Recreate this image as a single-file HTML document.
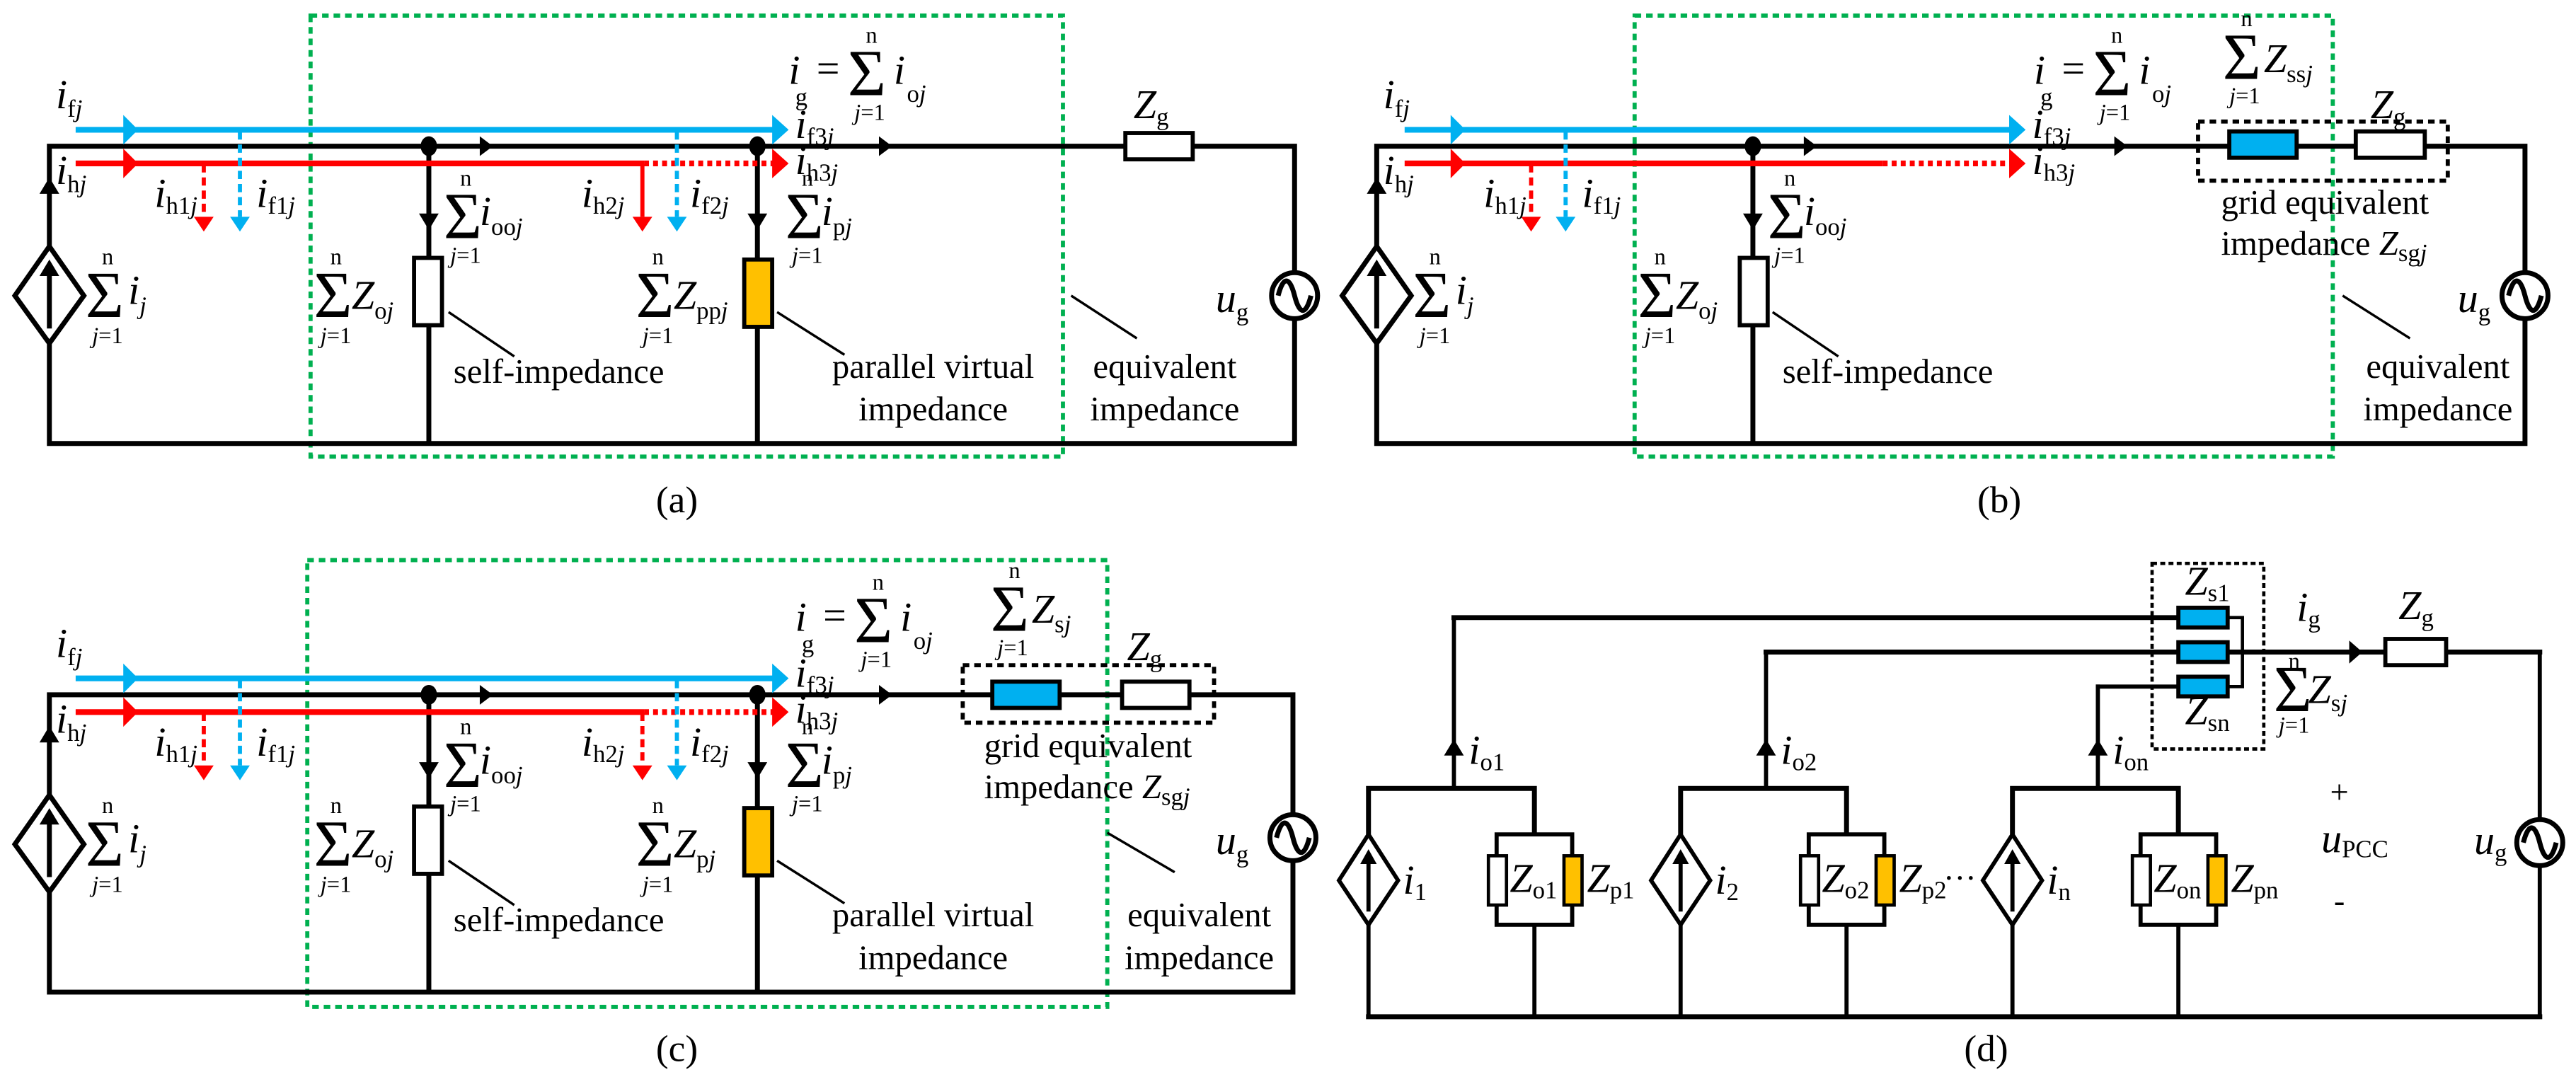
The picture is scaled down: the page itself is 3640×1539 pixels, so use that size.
<!DOCTYPE html>
<html><head><meta charset="utf-8"><style>
html,body{margin:0;padding:0;background:#fff;}
svg{display:block;font-family:"Liberation Serif","DejaVu Serif",serif;}
text,tspan{font-family:"Liberation Serif","DejaVu Serif",serif;}
text{fill:#000;}
.v{font-style:italic;font-size:25px;}
.s{font-style:normal;font-size:15px;}
.j{font-style:italic;}
.sg{font-size:40px;}
.sm{font-size:14px;}
.t{font-size:21px;}
.cap{font-size:23px;}
</style></head><body>
<svg width="3640" height="1539" viewBox="0 0 1568 663" xmlns="http://www.w3.org/2000/svg" font-family="Liberation Serif, DejaVu Serif, serif">
<rect width="1568" height="663" fill="#fff"/>

<!-- ================= (a) ================= -->
<g>
<rect x="189" y="9.5" width="458" height="268.5" fill="none" stroke="#00B050" stroke-width="2.5" stroke-dasharray="4 3"/>
<path d="M30,89 H788 V270 H30 Z" fill="none" stroke="#000" stroke-width="3"/>
<line x1="261" y1="89" x2="261" y2="270" stroke="#000" stroke-width="3"/>
<line x1="461" y1="89" x2="461" y2="270" stroke="#000" stroke-width="3"/>
<ellipse cx="261" cy="89" rx="5" ry="6"/><ellipse cx="461" cy="89" rx="5" ry="6"/>
<rect x="252" y="157" width="17" height="41" fill="#fff" stroke="#000" stroke-width="2.5"/>
<rect x="453" y="158" width="17" height="41" fill="#FFC000" stroke="#000" stroke-width="2.5"/>
<rect x="685" y="81" width="41" height="16" fill="#fff" stroke="#000" stroke-width="2.5"/>
<circle cx="788" cy="180" r="14" fill="#fff" stroke="#000" stroke-width="3"/>
<path d="M778,180 c3,-12 7,-12 10,0 s7,12 10,0" fill="none" stroke="#000" stroke-width="3"/>
<polygon points="30,150 51,180 30,209 9,180" fill="#fff" stroke="#000" stroke-width="3"/>
<line x1="30" y1="200" x2="30" y2="166" stroke="#000" stroke-width="3"/><path d="M30,158 l-6,10 h12 z"/>
<path d="M30,108 l-6,10 h12 z"/>
<path d="M261,140 l-6,-10 h12 z"/><path d="M461,140 l-6,-10 h12 z"/>
<path d="M300,89 l-8,-6 v12 z"/><path d="M543,89 l-8,-6 v12 z"/>
<line x1="46" y1="79" x2="472" y2="79" stroke="#00B0F0" stroke-width="3.5"/>
<path d="M480,79 l-10,-9 v18 z" fill="#00B0F0"/><path d="M84,79 l-9,-9 v18 z" fill="#00B0F0"/>
<line x1="46" y1="99.5" x2="392" y2="99.5" stroke="#f00" stroke-width="3.5"/>
<line x1="392" y1="99.5" x2="472" y2="99.5" stroke="#f00" stroke-width="3.5" stroke-dasharray="3 2.5"/>
<path d="M480,99.5 l-10,-9 v18 z" fill="#f00"/><path d="M84,99.5 l-9,-9 v18 z" fill="#f00"/>
<line x1="124" y1="100" x2="124" y2="132" stroke="#f00" stroke-width="2.5" stroke-dasharray="5 3"/><path d="M124,141 l-6,-9 h12 z" fill="#f00"/>
<line x1="146" y1="80" x2="146" y2="132" stroke="#00B0F0" stroke-width="2.5" stroke-dasharray="5 3"/><path d="M146,141 l-6,-9 h12 z" fill="#00B0F0"/>
<line x1="391" y1="100" x2="391" y2="132" stroke="#f00" stroke-width="2.5"/><path d="M391,141 l-6,-9 h12 z" fill="#f00"/>
<line x1="412" y1="80" x2="412" y2="132" stroke="#00B0F0" stroke-width="2.5" stroke-dasharray="5 3"/><path d="M412,141 l-6,-9 h12 z" fill="#00B0F0"/>
<line x1="273" y1="190" x2="313" y2="217" stroke="#000" stroke-width="1.5"/>
<line x1="473" y1="190" x2="514" y2="216" stroke="#000" stroke-width="1.5"/>
<line x1="652" y1="180" x2="692" y2="206" stroke="#000" stroke-width="1.5"/>
<text x="34" y="66" class="v">i<tspan class="s" dy="5">f</tspan><tspan class="s j">j</tspan></text>
<text x="34" y="112" class="v">i<tspan class="s" dy="5">h</tspan><tspan class="s j">j</tspan></text>
<text x="94" y="126" class="v">i<tspan class="s" dy="4">h1</tspan><tspan class="s j">j</tspan></text>
<text x="156" y="126" class="v">i<tspan class="s" dy="4">f1</tspan><tspan class="s j">j</tspan></text>
<text x="354" y="126" class="v">i<tspan class="s" dy="4">h2</tspan><tspan class="s j">j</tspan></text>
<text x="420" y="126" class="v">i<tspan class="s" dy="4">f2</tspan><tspan class="s j">j</tspan></text>
<text x="484" y="84" class="v">i<tspan class="s" dy="4">f3</tspan><tspan class="s j">j</tspan></text>
<text x="484" y="106" class="v">i<tspan class="s" dy="4">h3</tspan><tspan class="s j">j</tspan></text>
<text x="480" y="51" class="v">i</text><text x="484" y="64" class="s">g</text>
<text x="497" y="50" font-size="25">=</text>
<text x="516" y="58" class="sg">Σ</text><text x="527" y="26" class="sm">n</text><text x="520" y="73" class="sm"><tspan class="j">j</tspan>=1</text>
<text x="544" y="51" class="v">i</text><text x="552" y="62" class="s">o<tspan class="j">j</tspan></text>
<text x="690" y="72" class="v">Z<tspan class="s" dy="4">g</tspan></text>
<text x="740" y="190" class="v">u<tspan class="s" dy="5">g</tspan></text>
<text x="52" y="193" class="sg">Σ</text><text x="62" y="161" class="sm">n</text><text x="56" y="209" class="sm"><tspan class="j">j</tspan>=1</text>
<text x="78" y="185" class="v">i<tspan class="s j" dy="6">j</tspan></text>
<text x="191" y="193" class="sg">Σ</text><text x="201" y="161" class="sm">n</text><text x="195" y="209" class="sm"><tspan class="j">j</tspan>=1</text>
<text x="214" y="188" class="v">Z<tspan class="s" dy="6">o<tspan class="j">j</tspan></tspan></text>
<text x="270" y="145" class="sg">Σ</text><text x="280" y="113" class="sm">n</text><text x="274" y="160" class="sm"><tspan class="j">j</tspan>=1</text>
<text x="292" y="137" class="v">i<tspan class="s" dy="6">oo<tspan class="j">j</tspan></tspan></text>
<text x="387" y="193" class="sg">Σ</text><text x="397" y="161" class="sm">n</text><text x="391" y="209" class="sm"><tspan class="j">j</tspan>=1</text>
<text x="410" y="188" class="v">Z<tspan class="s" dy="6">pp<tspan class="j">j</tspan></tspan></text>
<text x="478" y="145" class="sg">Σ</text><text x="488" y="113" class="sm">n</text><text x="482" y="160" class="sm"><tspan class="j">j</tspan>=1</text>
<text x="500" y="137" class="v">i<tspan class="s" dy="6">p<tspan class="j">j</tspan></tspan></text>
<text x="276" y="233" class="t">self-impedance</text>
<text x="568" y="230" class="t" text-anchor="middle">parallel virtual</text>
<text x="568" y="256" class="t" text-anchor="middle">impedance</text>
<text x="709" y="230" class="t" text-anchor="middle">equivalent</text>
<text x="709" y="256" class="t" text-anchor="middle">impedance</text>
<text x="412" y="312" class="cap" text-anchor="middle">(a)</text>
</g>

<!-- ================= (b) ================= -->
<g>
<rect x="995" y="9.5" width="425" height="268.5" fill="none" stroke="#00B050" stroke-width="2.5" stroke-dasharray="4 3"/>
<path d="M838,89 H1537 V270 H838 Z" fill="none" stroke="#000" stroke-width="3"/>
<line x1="1067" y1="89" x2="1067" y2="270" stroke="#000" stroke-width="3"/>
<ellipse cx="1067" cy="89" rx="5" ry="6"/>
<rect x="1059" y="157" width="17" height="41" fill="#fff" stroke="#000" stroke-width="2.5"/>
<rect x="1338" y="74" width="152" height="36" fill="none" stroke="#000" stroke-width="2.5" stroke-dasharray="4 3"/>
<rect x="1357" y="80" width="41" height="16" fill="#00B0F0" stroke="#000" stroke-width="2.5"/>
<rect x="1434" y="80" width="42" height="16" fill="#fff" stroke="#000" stroke-width="2.5"/>
<circle cx="1537" cy="180" r="14" fill="#fff" stroke="#000" stroke-width="3"/>
<path d="M1527,180 c3,-12 7,-12 10,0 s7,12 10,0" fill="none" stroke="#000" stroke-width="3"/>
<polygon points="838,150 859,180 838,209 817,180" fill="#fff" stroke="#000" stroke-width="3"/>
<line x1="838" y1="200" x2="838" y2="166" stroke="#000" stroke-width="3"/><path d="M838,158 l-6,10 h12 z"/>
<path d="M838,108 l-6,10 h12 z"/>
<path d="M1067,140 l-6,-10 h12 z"/>
<path d="M1106,89 l-8,-6 v12 z"/><path d="M1295,89 l-8,-6 v12 z"/>
<line x1="855" y1="79" x2="1225" y2="79" stroke="#00B0F0" stroke-width="3.5"/>
<path d="M1233,79 l-10,-9 v18 z" fill="#00B0F0"/><path d="M892,79 l-9,-9 v18 z" fill="#00B0F0"/>
<line x1="855" y1="99.5" x2="1146" y2="99.5" stroke="#f00" stroke-width="3.5"/>
<line x1="1146" y1="99.5" x2="1225" y2="99.5" stroke="#f00" stroke-width="3.5" stroke-dasharray="3 2.5"/>
<path d="M1233,99.5 l-10,-9 v18 z" fill="#f00"/><path d="M892,99.5 l-9,-9 v18 z" fill="#f00"/>
<line x1="932" y1="100" x2="932" y2="132" stroke="#f00" stroke-width="2.5" stroke-dasharray="5 3"/><path d="M932,141 l-6,-9 h12 z" fill="#f00"/>
<line x1="953" y1="80" x2="953" y2="132" stroke="#00B0F0" stroke-width="2.5" stroke-dasharray="5 3"/><path d="M953,141 l-6,-9 h12 z" fill="#00B0F0"/>
<line x1="1079" y1="190" x2="1119" y2="217" stroke="#000" stroke-width="1.5"/>
<line x1="1426" y1="180" x2="1467" y2="206" stroke="#000" stroke-width="1.5"/>
<text x="842" y="66" class="v">i<tspan class="s" dy="5">f</tspan><tspan class="s j">j</tspan></text>
<text x="842" y="112" class="v">i<tspan class="s" dy="5">h</tspan><tspan class="s j">j</tspan></text>
<text x="903" y="126" class="v">i<tspan class="s" dy="4">h1</tspan><tspan class="s j">j</tspan></text>
<text x="963" y="126" class="v">i<tspan class="s" dy="4">f1</tspan><tspan class="s j">j</tspan></text>
<text x="1237" y="84" class="v">i<tspan class="s" dy="4">f3</tspan><tspan class="s j">j</tspan></text>
<text x="1237" y="106" class="v">i<tspan class="s" dy="4">h3</tspan><tspan class="s j">j</tspan></text>
<text x="1238" y="51" class="v">i</text><text x="1242" y="64" class="s">g</text>
<text x="1255" y="50" font-size="25">=</text>
<text x="1274" y="58" class="sg">Σ</text><text x="1285" y="26" class="sm">n</text><text x="1278" y="73" class="sm"><tspan class="j">j</tspan>=1</text>
<text x="1302" y="51" class="v">i</text><text x="1310" y="62" class="s">o<tspan class="j">j</tspan></text>
<text x="1353" y="48" class="sg">Σ</text><text x="1364" y="16" class="sm">n</text><text x="1357" y="63" class="sm"><tspan class="j">j</tspan>=1</text>
<text x="1378" y="44" class="v">Z<tspan class="s" dy="6">ss<tspan class="j">j</tspan></tspan></text>
<text x="1443" y="72" class="v">Z<tspan class="s" dy="4">g</tspan></text>
<text x="1352" y="130" class="t">grid equivalent</text>
<text x="1352" y="155" class="t">impedance <tspan class="j">Z</tspan><tspan class="s" dy="4">sg<tspan class="j">j</tspan></tspan></text>
<text x="1496" y="190" class="v">u<tspan class="s" dy="5">g</tspan></text>
<text x="860" y="193" class="sg">Σ</text><text x="870" y="161" class="sm">n</text><text x="864" y="209" class="sm"><tspan class="j">j</tspan>=1</text>
<text x="886" y="185" class="v">i<tspan class="s j" dy="6">j</tspan></text>
<text x="997" y="193" class="sg">Σ</text><text x="1007" y="161" class="sm">n</text><text x="1001" y="209" class="sm"><tspan class="j">j</tspan>=1</text>
<text x="1020" y="188" class="v">Z<tspan class="s" dy="6">o<tspan class="j">j</tspan></tspan></text>
<text x="1076" y="145" class="sg">Σ</text><text x="1086" y="113" class="sm">n</text><text x="1080" y="160" class="sm"><tspan class="j">j</tspan>=1</text>
<text x="1098" y="137" class="v">i<tspan class="s" dy="6">oo<tspan class="j">j</tspan></tspan></text>
<text x="1085" y="233" class="t">self-impedance</text>
<text x="1484" y="230" class="t" text-anchor="middle">equivalent</text>
<text x="1484" y="256" class="t" text-anchor="middle">impedance</text>
<text x="1217" y="312" class="cap" text-anchor="middle">(b)</text>
</g>

<!-- ================= (c) ================= -->
<g>
<rect x="187" y="341" width="487" height="272" fill="none" stroke="#00B050" stroke-width="2.5" stroke-dasharray="4 3"/>
<path d="M30,423 H787 V604 H30 Z" fill="none" stroke="#000" stroke-width="3"/>
<line x1="261" y1="423" x2="261" y2="604" stroke="#000" stroke-width="3"/>
<line x1="461" y1="423" x2="461" y2="604" stroke="#000" stroke-width="3"/>
<ellipse cx="261" cy="423" rx="5" ry="6"/><ellipse cx="461" cy="423" rx="5" ry="6"/>
<rect x="252" y="491" width="17" height="41" fill="#fff" stroke="#000" stroke-width="2.5"/>
<rect x="453" y="492" width="17" height="41" fill="#FFC000" stroke="#000" stroke-width="2.5"/>
<rect x="586" y="405" width="153" height="35" fill="none" stroke="#000" stroke-width="2.5" stroke-dasharray="4 3"/>
<rect x="604" y="415" width="41" height="16" fill="#00B0F0" stroke="#000" stroke-width="2.5"/>
<rect x="683" y="415" width="41" height="16" fill="#fff" stroke="#000" stroke-width="2.5"/>
<circle cx="787" cy="510" r="14" fill="#fff" stroke="#000" stroke-width="3"/>
<path d="M777,510 c3,-12 7,-12 10,0 s7,12 10,0" fill="none" stroke="#000" stroke-width="3"/>
<polygon points="30,484 51,514 30,543 9,514" fill="#fff" stroke="#000" stroke-width="3"/>
<line x1="30" y1="534" x2="30" y2="500" stroke="#000" stroke-width="3"/><path d="M30,492 l-6,10 h12 z"/>
<path d="M30,442 l-6,10 h12 z"/>
<path d="M261,474 l-6,-10 h12 z"/><path d="M461,474 l-6,-10 h12 z"/>
<path d="M300,423 l-8,-6 v12 z"/><path d="M543,423 l-8,-6 v12 z"/>
<line x1="46" y1="413" x2="472" y2="413" stroke="#00B0F0" stroke-width="3.5"/>
<path d="M480,413 l-10,-9 v18 z" fill="#00B0F0"/><path d="M84,413 l-9,-9 v18 z" fill="#00B0F0"/>
<line x1="46" y1="433.5" x2="392" y2="433.5" stroke="#f00" stroke-width="3.5"/>
<line x1="392" y1="433.5" x2="472" y2="433.5" stroke="#f00" stroke-width="3.5" stroke-dasharray="3 2.5"/>
<path d="M480,433.5 l-10,-9 v18 z" fill="#f00"/><path d="M84,433.5 l-9,-9 v18 z" fill="#f00"/>
<line x1="124" y1="434" x2="124" y2="466" stroke="#f00" stroke-width="2.5" stroke-dasharray="5 3"/><path d="M124,475 l-6,-9 h12 z" fill="#f00"/>
<line x1="146" y1="414" x2="146" y2="466" stroke="#00B0F0" stroke-width="2.5" stroke-dasharray="5 3"/><path d="M146,475 l-6,-9 h12 z" fill="#00B0F0"/>
<line x1="391" y1="434" x2="391" y2="466" stroke="#f00" stroke-width="2.5" stroke-dasharray="5 3"/><path d="M391,475 l-6,-9 h12 z" fill="#f00"/>
<line x1="412" y1="414" x2="412" y2="466" stroke="#00B0F0" stroke-width="2.5" stroke-dasharray="5 3"/><path d="M412,475 l-6,-9 h12 z" fill="#00B0F0"/>
<line x1="273" y1="524" x2="313" y2="551" stroke="#000" stroke-width="1.5"/>
<line x1="473" y1="524" x2="514" y2="550" stroke="#000" stroke-width="1.5"/>
<line x1="674" y1="507" x2="715" y2="531" stroke="#000" stroke-width="1.5"/>
<text x="34" y="400" class="v">i<tspan class="s" dy="5">f</tspan><tspan class="s j">j</tspan></text>
<text x="34" y="446" class="v">i<tspan class="s" dy="5">h</tspan><tspan class="s j">j</tspan></text>
<text x="94" y="460" class="v">i<tspan class="s" dy="4">h1</tspan><tspan class="s j">j</tspan></text>
<text x="156" y="460" class="v">i<tspan class="s" dy="4">f1</tspan><tspan class="s j">j</tspan></text>
<text x="354" y="460" class="v">i<tspan class="s" dy="4">h2</tspan><tspan class="s j">j</tspan></text>
<text x="420" y="460" class="v">i<tspan class="s" dy="4">f2</tspan><tspan class="s j">j</tspan></text>
<text x="484" y="418" class="v">i<tspan class="s" dy="4">f3</tspan><tspan class="s j">j</tspan></text>
<text x="484" y="440" class="v">i<tspan class="s" dy="4">h3</tspan><tspan class="s j">j</tspan></text>
<text x="484" y="384" class="v">i</text><text x="488" y="397" class="s">g</text>
<text x="501" y="383" font-size="25">=</text>
<text x="520" y="391" class="sg">Σ</text><text x="531" y="359" class="sm">n</text><text x="524" y="406" class="sm"><tspan class="j">j</tspan>=1</text>
<text x="548" y="384" class="v">i</text><text x="556" y="395" class="s">o<tspan class="j">j</tspan></text>
<text x="603" y="384" class="sg">Σ</text><text x="614" y="352" class="sm">n</text><text x="607" y="399" class="sm"><tspan class="j">j</tspan>=1</text>
<text x="628" y="379" class="v">Z<tspan class="s" dy="6">s<tspan class="j">j</tspan></tspan></text>
<text x="686" y="402" class="v">Z<tspan class="s" dy="4">g</tspan></text>
<text x="599" y="461" class="t">grid equivalent</text>
<text x="599" y="486" class="t">impedance <tspan class="j">Z</tspan><tspan class="s" dy="4">sg<tspan class="j">j</tspan></tspan></text>
<text x="740" y="520" class="v">u<tspan class="s" dy="5">g</tspan></text>
<text x="52" y="527" class="sg">Σ</text><text x="62" y="495" class="sm">n</text><text x="56" y="543" class="sm"><tspan class="j">j</tspan>=1</text>
<text x="78" y="519" class="v">i<tspan class="s j" dy="6">j</tspan></text>
<text x="191" y="527" class="sg">Σ</text><text x="201" y="495" class="sm">n</text><text x="195" y="543" class="sm"><tspan class="j">j</tspan>=1</text>
<text x="214" y="522" class="v">Z<tspan class="s" dy="6">o<tspan class="j">j</tspan></tspan></text>
<text x="270" y="479" class="sg">Σ</text><text x="280" y="447" class="sm">n</text><text x="274" y="494" class="sm"><tspan class="j">j</tspan>=1</text>
<text x="292" y="471" class="v">i<tspan class="s" dy="6">oo<tspan class="j">j</tspan></tspan></text>
<text x="387" y="527" class="sg">Σ</text><text x="397" y="495" class="sm">n</text><text x="391" y="543" class="sm"><tspan class="j">j</tspan>=1</text>
<text x="410" y="522" class="v">Z<tspan class="s" dy="6">p<tspan class="j">j</tspan></tspan></text>
<text x="478" y="479" class="sg">Σ</text><text x="488" y="447" class="sm">n</text><text x="482" y="494" class="sm"><tspan class="j">j</tspan>=1</text>
<text x="500" y="471" class="v">i<tspan class="s" dy="6">p<tspan class="j">j</tspan></tspan></text>
<text x="276" y="567" class="t">self-impedance</text>
<text x="568" y="564" class="t" text-anchor="middle">parallel virtual</text>
<text x="568" y="590" class="t" text-anchor="middle">impedance</text>
<text x="730" y="564" class="t" text-anchor="middle">equivalent</text>
<text x="730" y="590" class="t" text-anchor="middle">impedance</text>
<text x="412" y="646" class="cap" text-anchor="middle">(c)</text>
</g>

<!-- ================= (d) ================= -->
<g>
<rect x="1310" y="343" width="68" height="113" fill="none" stroke="#000" stroke-width="2" stroke-dasharray="3 2"/>
<g stroke-linecap="square">
<line x1="833" y1="619" x2="1546" y2="619" stroke="#000" stroke-width="3"/>
<line x1="1546" y1="397" x2="1546" y2="619" stroke="#000" stroke-width="2.5"/>
<line x1="885" y1="376" x2="1326" y2="376" stroke="#000" stroke-width="3"/>
<line x1="885" y1="376" x2="885" y2="480" stroke="#000" stroke-width="2.5"/>
<line x1="1075" y1="397" x2="1546" y2="397" stroke="#000" stroke-width="3"/>
<line x1="1075" y1="397" x2="1075" y2="480" stroke="#000" stroke-width="2.5"/>
<line x1="1277" y1="418" x2="1326" y2="418" stroke="#000" stroke-width="2.5"/>
<line x1="1277" y1="418" x2="1277" y2="480" stroke="#000" stroke-width="2.5"/>
<polyline points="1356,376 1365,376 1365,418 1356,418" fill="none" stroke="#000" stroke-width="2"/>
</g>
<rect x="1326" y="370" width="30" height="12" fill="#00B0F0" stroke="#000" stroke-width="2.5"/>
<rect x="1326" y="391" width="30" height="12" fill="#00B0F0" stroke="#000" stroke-width="2.5"/>
<rect x="1326" y="412" width="30" height="12" fill="#00B0F0" stroke="#000" stroke-width="2.5"/>
<rect x="1452" y="389" width="37" height="16" fill="#fff" stroke="#000" stroke-width="2.5"/>
<path d="M1438,397 l-8,-7 v14 z"/>
<circle cx="1546" cy="513" r="14" fill="#fff" stroke="#000" stroke-width="3"/>
<path d="M1536,513 c3,-12 7,-12 10,0 s7,12 10,0" fill="none" stroke="#000" stroke-width="3"/>
<path d="M885,450 l-6,10 h12 z"/><path d="M1075,450 l-6,10 h12 z"/><path d="M1277,450 l-6,10 h12 z"/>
<g>
<polyline points="833,508 833,480 934,480 934,508" fill="none" stroke="#000" stroke-width="3"/>
<line x1="833" y1="563" x2="833" y2="619" stroke="#000" stroke-width="2.5"/>
<line x1="934" y1="563" x2="934" y2="619" stroke="#000" stroke-width="2.5"/>
<rect x="911" y="508" width="46" height="55" fill="none" stroke="#000" stroke-width="2.5"/>
<rect x="906" y="521" width="11" height="30" fill="#fff" stroke="#000" stroke-width="2"/>
<rect x="952" y="521" width="11" height="30" fill="#FFC000" stroke="#000" stroke-width="2"/>
<polygon points="833,508 851,536 833,563 815,536" fill="#fff" stroke="#000" stroke-width="2.5"/>
<line x1="833" y1="555" x2="833" y2="524" stroke="#000" stroke-width="2.5"/><path d="M833,517 l-5,9 h10 z"/>
</g>
<g>
<polyline points="1023,508 1023,480 1124,480 1124,508" fill="none" stroke="#000" stroke-width="3"/>
<line x1="1023" y1="563" x2="1023" y2="619" stroke="#000" stroke-width="2.5"/>
<line x1="1124" y1="563" x2="1124" y2="619" stroke="#000" stroke-width="2.5"/>
<rect x="1101" y="508" width="46" height="55" fill="none" stroke="#000" stroke-width="2.5"/>
<rect x="1096" y="521" width="11" height="30" fill="#fff" stroke="#000" stroke-width="2"/>
<rect x="1142" y="521" width="11" height="30" fill="#FFC000" stroke="#000" stroke-width="2"/>
<polygon points="1023,508 1041,536 1023,563 1005,536" fill="#fff" stroke="#000" stroke-width="2.5"/>
<line x1="1023" y1="555" x2="1023" y2="524" stroke="#000" stroke-width="2.5"/><path d="M1023,517 l-5,9 h10 z"/>
</g>
<g>
<polyline points="1225,508 1225,480 1326,480 1326,508" fill="none" stroke="#000" stroke-width="3"/>
<line x1="1225" y1="563" x2="1225" y2="619" stroke="#000" stroke-width="2.5"/>
<line x1="1326" y1="563" x2="1326" y2="619" stroke="#000" stroke-width="2.5"/>
<rect x="1303" y="508" width="46" height="55" fill="none" stroke="#000" stroke-width="2.5"/>
<rect x="1298" y="521" width="11" height="30" fill="#fff" stroke="#000" stroke-width="2"/>
<rect x="1344" y="521" width="11" height="30" fill="#FFC000" stroke="#000" stroke-width="2"/>
<polygon points="1225,508 1243,536 1225,563 1207,536" fill="#fff" stroke="#000" stroke-width="2.5"/>
<line x1="1225" y1="555" x2="1225" y2="524" stroke="#000" stroke-width="2.5"/><path d="M1225,517 l-5,9 h10 z"/>
</g>
<text x="854" y="544" class="v" font-size="22">i<tspan class="s" dy="4">1</tspan></text>
<text x="1044" y="544" class="v" font-size="22">i<tspan class="s" dy="4">2</tspan></text>
<text x="1246" y="544" class="v" font-size="22">i<tspan class="s" dy="4">n</tspan></text>
<text x="919" y="543" class="v" font-size="22">Z<tspan class="s" dy="4">o1</tspan></text>
<text x="966" y="543" class="v" font-size="22">Z<tspan class="s" dy="4">p1</tspan></text>
<text x="1109" y="543" class="v" font-size="22">Z<tspan class="s" dy="4">o2</tspan></text>
<text x="1156" y="543" class="v" font-size="22">Z<tspan class="s" dy="4">p2</tspan></text>
<text x="1183" y="541" font-size="20">···</text>
<text x="1311" y="543" class="v" font-size="22">Z<tspan class="s" dy="4">on</tspan></text>
<text x="1358" y="543" class="v" font-size="22">Z<tspan class="s" dy="4">pn</tspan></text>
<text x="894" y="465" class="v" font-size="22">i<tspan class="s" dy="4">o1</tspan></text>
<text x="1084" y="465" class="v" font-size="22">i<tspan class="s" dy="4">o2</tspan></text>
<text x="1286" y="465" class="v" font-size="22">i<tspan class="s" dy="4">on</tspan></text>
<text x="1330" y="362" class="v" font-size="22">Z<tspan class="s" dy="4">s1</tspan></text>
<text x="1330" y="441" class="v" font-size="22">Z<tspan class="s" dy="4">sn</tspan></text>
<text x="1398" y="378" class="v" font-size="22">i<tspan class="s" dy="4">g</tspan></text>
<text x="1460" y="377" class="v" font-size="22">Z<tspan class="s" dy="4">g</tspan></text>
<text x="1384" y="433" class="sg" font-size="34">Σ</text><text x="1393" y="407" class="sm">n</text><text x="1387" y="446" class="sm"><tspan class="j">j</tspan>=1</text>
<text x="1405" y="428" class="v" font-size="22">Z<tspan class="s" dy="5">s<tspan class="j">j</tspan></tspan></text>
<text x="1424" y="489" font-size="20" text-anchor="middle">+</text>
<text x="1413" y="519" class="v" font-size="20">u<tspan class="s" dy="3">PCC</tspan></text>
<text x="1424" y="555" font-size="20" text-anchor="middle">-</text>
<text x="1506" y="520" class="v" font-size="22">u<tspan class="s" dy="4">g</tspan></text>
<text x="1209" y="646" class="cap" text-anchor="middle">(d)</text>
</g>
</svg>
</body></html>
